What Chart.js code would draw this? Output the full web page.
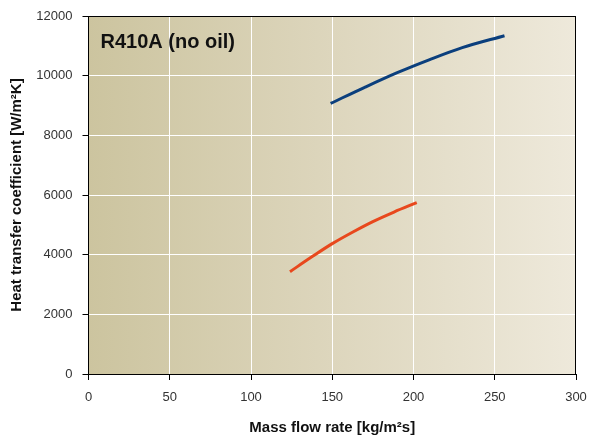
<!DOCTYPE html>
<html>
<head>
<meta charset="utf-8">
<script src="https://cdn.jsdelivr.net/npm/chart.js@4/dist/chart.umd.min.js"></script>
<style>
html,body{margin:0;padding:0;background:#fff;}
#wrap{width:589px;height:441px;}
</style>
</head>
<body>
<div id="wrap"><canvas id="c" width="589" height="441"></canvas></div>
<script>
// Data
const blueX = [149, 170, 190, 210, 230, 256];
const blueY = [9070, 9610, 10100, 10540, 10940, 11340];
const orangeX = [124, 137, 150, 163, 175, 188, 202];
const orangeY = [3430, 3910, 4370, 4770, 5110, 5430, 5745];
const xTicks = [0, 50, 100, 150, 200, 250, 300];
const yTicks = [0, 2000, 4000, 6000, 8000, 10000, 12000];
const chartTitle = 'R410A (no oil)';
const xTitle = 'Mass flow rate [kg/m²s]';
const yTitle = 'Heat transfer coefficient [W/m²K]';

const toPts = (xs, ys) => xs.map((x, i) => ({x: x, y: ys[i]}));

const bgPlugin = {
  id: 'bg',
  beforeDraw(chart) {
    const {ctx, chartArea: a} = chart;
    const g = ctx.createLinearGradient(a.left, 0, a.right, 0);
    g.addColorStop(0, '#ccc49f');
    g.addColorStop(0.5, '#ddd6bd');
    g.addColorStop(1, '#eee9db');
    ctx.save();
    ctx.fillStyle = g;
    ctx.fillRect(a.left, a.top, a.right - a.left, a.bottom - a.top);
    ctx.restore();
  },
  afterDraw(chart) {
    const {ctx, chartArea: a} = chart;
    ctx.save();
    ctx.strokeStyle = '#000';
    ctx.lineWidth = 1;
    ctx.beginPath();
    ctx.moveTo(a.left, a.top + 0.5);
    ctx.lineTo(a.right, a.top + 0.5);
    ctx.moveTo(a.right - 0.5, a.top);
    ctx.lineTo(a.right - 0.5, a.bottom);
    ctx.stroke();
    ctx.fillStyle = '#111';
    ctx.font = 'bold 20px "Liberation Sans", Arial, sans-serif';
    ctx.textBaseline = 'alphabetic';
    ctx.fillText(chartTitle, a.left + 12, a.top + 32);
    ctx.restore();
  }
};

new Chart(document.getElementById('c'), {
  type: 'scatter',
  data: {
    datasets: [
      {data: toPts(blueX, blueY), showLine: true, borderColor: '#0b3f7d', borderWidth: 3, pointRadius: 0, cubicInterpolationMode: 'monotone'},
      {data: toPts(orangeX, orangeY), showLine: true, borderColor: '#e8481d', borderWidth: 3, pointRadius: 0, cubicInterpolationMode: 'monotone'}
    ]
  },
  options: {
    responsive: false,
    animation: false,
    layout: {padding: {top: 16, right: 13, left: 0, bottom: 0}},
    plugins: {legend: {display: false}, tooltip: {enabled: false}},
    scales: {
      x: {
        type: 'linear', min: 0, max: 300,
        afterBuildTicks(s) { s.ticks = xTicks.map(v => ({value: v})); },
        afterFit(s) { s.height = 67; s.paddingRight = 0; s.paddingLeft = 0; },
        grid: {color: '#ffffff', lineWidth: 1, tickColor: '#000', tickLength: 6, drawTicks: true},
        border: {color: '#000', width: 1},
        ticks: {color: '#333', font: {family: '"Liberation Sans", Arial, sans-serif', size: 13}, padding: 10, maxRotation: 0},
        title: {display: true, text: xTitle, color: '#111', font: {family: '"Liberation Sans", Arial, sans-serif', size: 15, weight: 'bold'}, padding: {top: 0, bottom: 4}}
      },
      y: {
        type: 'linear', min: 0, max: 12000,
        afterBuildTicks(s) { s.ticks = yTicks.map(v => ({value: v})); },
        afterFit(s) { s.width = 88.5; s.paddingTop = 0; s.paddingBottom = 0; },
        grid: {color: '#ffffff', lineWidth: 1, tickColor: '#000', tickLength: 6, drawTicks: true},
        border: {color: '#000', width: 1},
        ticks: {color: '#333', font: {family: '"Liberation Sans", Arial, sans-serif', size: 13}, padding: 10, callback: v => String(v)},
        title: {display: true, text: yTitle, color: '#111', font: {family: '"Liberation Sans", Arial, sans-serif', size: 15, weight: 'bold'}, padding: {top: 8, bottom: 0}}
      }
    }
  },
  plugins: [bgPlugin]
});
</script>
</body>
</html>
